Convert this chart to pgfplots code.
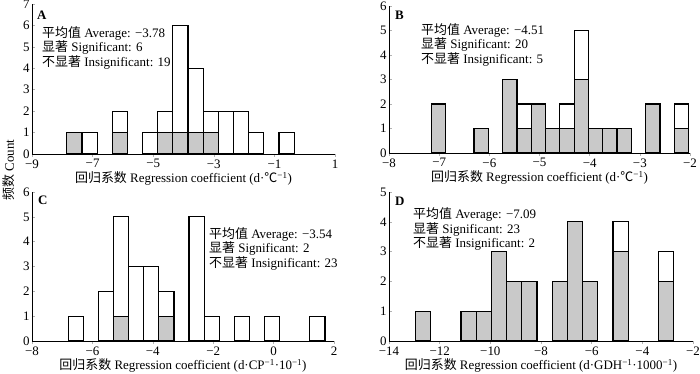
\documentclass[border=0pt]{standalone}
\usepackage{pgfplots}
\pgfplotsset{compat=1.18}
\usepackage{fontspec}
\setmainfont{Liberation Serif}
\newfontfamily\cjk{Noto Sans CJK SC}
\newcommand\fs{\fontsize{13}{15}\selectfont}
\pgfplotsset{
 hist/.style={
  scale only axis,
  anchor=south west,
  axis x line*=bottom, axis y line*=left,
  axis line style={-, line width=0.6pt},
  tick align=inside,
  major tick length=3bp,
  tick style={gray!60, line width=0.5pt},
  ybar, /pgf/bar shift=0pt,
  ymin=0,
  font=\fs,
  /pgf/number format/assume math mode=true,
  ticklabel style={font=\fs},
  xticklabel style={yshift=1bp},
  yticklabel style={xshift=1bp},
  xlabel style={font=\fs, yshift=3bp},
  every axis plot/.append style={draw=black, line width=1.2pt},
 },
 tot/.style={fill=white},
 sig/.style={fill=gray!42},
}
\begin{document}
\begin{tikzpicture}[x=1bp,y=1bp]
\useasboundingbox (0,0) rectangle (700,373);
% Panel A
\begin{axis}[hist, at={(32bp,219bp)}, width=303bp, height=150bp,
  xmin=-9, xmax=1, ymax=7, bar width=0.5,
  xtick={-9,-7,-5,-3,-1,1}, xticklabels={−9,−7,−5,−3,−1,1},
  ytick={0,...,7},
  xlabel={{\cjk 回归系数} Regression coefficient (d·{\cjk ℃}\textsuperscript{−1})}]
\addplot[tot] coordinates {(-7.6,1) (-7.1,1) (-6.1,2) (-5.1,1) (-4.6,2) (-4.1,6) (-3.6,4) (-3.1,2) (-2.6,2) (-2.1,2) (-1.6,1) (-0.6,1)};
\addplot[sig] coordinates {(-7.6,1) (-6.1,1) (-4.6,1) (-4.1,1) (-3.6,1) (-3.1,1)};
\end{axis}
% Panel B
\begin{axis}[hist, at={(389bp,220bp)}, width=301bp, height=147bp,
  xmin=-8, xmax=-2, ymax=6, bar width=0.285,
  xtick={-8,...,-2}, xticklabels={−8,−7,−6,−5,−4,−3,−2},
  ytick={0,...,6},
  xlabel={{\cjk 回归系数} Regression coefficient (d·{\cjk ℃}\textsuperscript{−1})}]
\addplot[tot] coordinates {(-7.0175,2) (-6.1625,1) (-5.5925,3) (-5.3075,2) (-5.0225,2) (-4.7375,1) (-4.4525,2) (-4.1675,5) (-3.8825,1) (-3.5975,1) (-3.3125,1) (-2.7425,2) (-2.1725,2)};
\addplot[sig] coordinates {(-7.0175,2) (-6.1625,1) (-5.5925,3) (-5.3075,1) (-5.0225,2) (-4.7375,1) (-4.4525,1) (-4.1675,3) (-3.8825,1) (-3.5975,1) (-3.3125,1) (-2.7425,2) (-2.1725,1)};
\end{axis}
% Panel C
\begin{axis}[hist, at={(32bp,32bp)}, width=302bp, height=149bp,
  xmin=-8, xmax=2, ymax=6, bar width=0.5,
  xtick={-8,-6,-4,-2,0,2}, xticklabels={−8,−6,−4,−2,0,2},
  ytick={0,...,6},
  xlabel={{\cjk 回归系数} Regression coefficient (d·CP\textsuperscript{−1}·10\textsuperscript{−1})}]
\addplot[tot] coordinates {(-6.55,1) (-5.55,2) (-5.05,5) (-4.55,3) (-4.05,3) (-3.55,2) (-2.55,5) (-2.05,1) (-1.05,1) (-0.05,1) (1.45,1)};
\addplot[sig] coordinates {(-5.05,1) (-3.55,1)};
\end{axis}
% Panel D
\begin{axis}[hist, at={(389bp,32bp)}, width=304bp, height=149bp,
  xmin=-14, xmax=-2, ymax=5, bar width=0.6,
  xtick={-14,-12,-10,-8,-6,-4,-2}, xticklabels={−14,−12,−10,−8,−6,−4,−2},
  ytick={0,...,5},
  xlabel={{\cjk 回归系数} Regression coefficient (d·GDH\textsuperscript{−1}·1000\textsuperscript{−1})}]
\addplot[tot] coordinates {(-12.66,1) (-10.86,1) (-10.26,1) (-9.66,3) (-9.06,2) (-8.46,2) (-7.26,2) (-6.66,4) (-6.06,2) (-4.86,4) (-3.06,3)};
\addplot[sig] coordinates {(-12.66,1) (-10.86,1) (-10.26,1) (-9.66,3) (-9.06,2) (-8.46,2) (-7.26,2) (-6.66,4) (-6.06,2) (-4.86,3) (-3.06,2)};
\end{axis}
% annotations
\begin{scope}[every node/.style={inner sep=0pt, anchor=west, font=\fs}]
\node[font=\fs\bfseries] at (37,358) {A};
\node at (42,340) {{\cjk 平均值} Average: −3.78};
\node at (42,325.5) {{\cjk 显著} Significant: 6};
\node at (42,311) {{\cjk 不显著} Insignificant: 19};
\node[font=\fs\bfseries] at (395,358) {B};
\node at (421,343) {{\cjk 平均值} Average: −4.51};
\node at (421,328.5) {{\cjk 显著} Significant: 20};
\node at (421,314) {{\cjk 不显著} Insignificant: 5};
\node[font=\fs\bfseries] at (38,173) {C};
\node at (209,139) {{\cjk 平均值} Average: −3.54};
\node at (209,124.5) {{\cjk 显著} Significant: 2};
\node at (209,110) {{\cjk 不显著} Insignificant: 23};
\node[font=\fs\bfseries] at (395,172) {D};
\node at (413,158.5) {{\cjk 平均值} Average: −7.09};
\node at (413,144) {{\cjk 显著} Significant: 23};
\node at (413,129.5) {{\cjk 不显著} Insignificant: 2};
\node[anchor=center, rotate=90] at (9,203) {{\cjk 频数} Count};
\end{scope}
\end{tikzpicture}
\end{document}
